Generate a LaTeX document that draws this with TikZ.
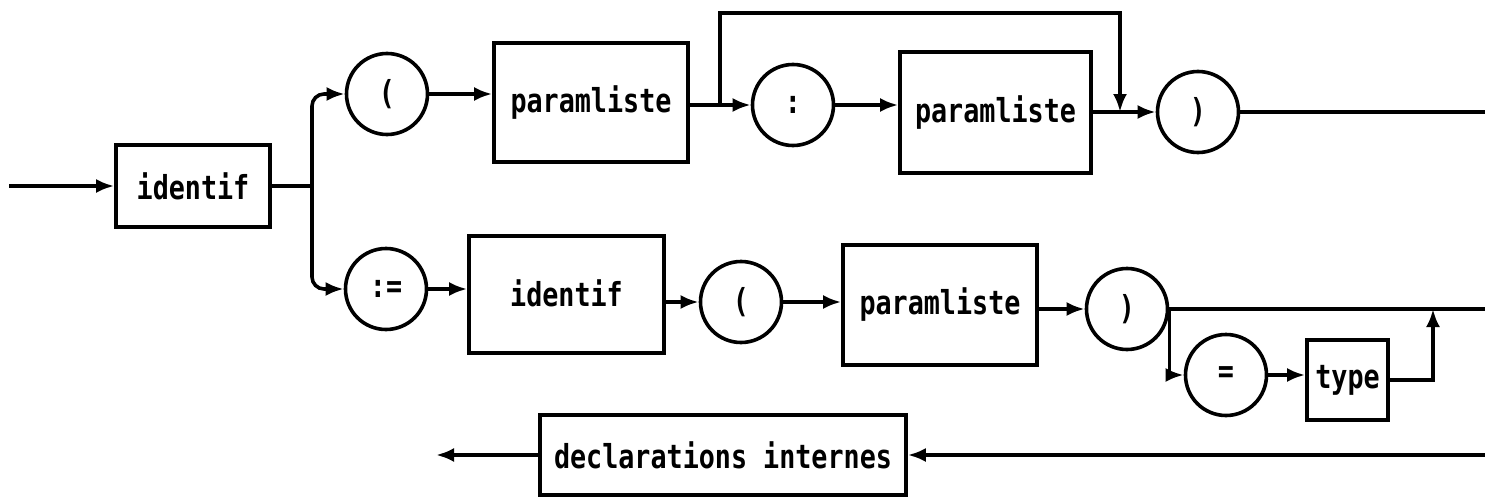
\documentclass[tikz,border=0pt]{standalone}
\usepackage{fontspec}
\newfontfamily\printfont[FakeStretch=0.81]{DejaVu Sans Mono}
\usetikzlibrary{arrows.meta}
\begin{document}
\begin{tikzpicture}[x=0.5pt,y=-0.5pt,
  line width=1.8pt,
  lbl/.style={font=\printfont\bfseries\fontsize{16.5pt}{19pt}\selectfont},
  arr/.style={-{Latex[length=9pt,width=7pt]}},
  term/.style={lbl, draw, circle, minimum size=40.5pt, inner sep=0pt},
  nonterm/.style={lbl, draw, rectangle, inner sep=0pt},
  exitline/.style={line width=2.2pt}]
\useasboundingbox (0,0) rectangle (1485,498);

% upper path: identif ( paramliste { : paramliste } )
\node[nonterm, minimum width=77pt, minimum height=41pt] (id1) at (193,186) {identif};
\node[term] (cA) at (387,94) {(};
\node[nonterm, minimum width=97pt, minimum height=59.5pt] (pl1) at (591,102.5) {\raisebox{2pt}{paramliste}};
\node[term] (cB) at (793,105) {:};
\node[nonterm, minimum width=95.5pt, minimum height=60.5pt] (pl2) at (995.5,112.5) {\raisebox{1.5pt}{paramliste}};
\node[term] (cC) at (1198,112) {)};

% lower path: := identif ( paramliste ) [ = type ]
\node[term] (cD) at (386,289) {:=};
\node[nonterm, minimum width=97.5pt, minimum height=58.5pt] (id2) at (566.5,294.5) {\raisebox{1.5pt}{identif}};
\node[term] (cE) at (741,302) {(};
\node[nonterm, minimum width=97pt, minimum height=60pt] (pl3) at (940,305) {\raisebox{1pt}{paramliste}};
\node[term] (cF) at (1127,309) {)};
\node[term] (cG) at (1226,375) {=};
\node[nonterm, minimum width=40.5pt, minimum height=40pt] (ty) at (1347.5,380) {type};

% closing part
\node[nonterm, minimum width=183pt, minimum height=40pt] (dec) at (723,455) {declarations internes};

% free ends and bends
\coordinate (in) at (9,186);
\coordinate (sp) at (312,186);
\coordinate (tl) at (720,13);
\coordinate (tr) at (1120,13);
\coordinate (rim) at (1485,0);
\coordinate (tyR) at (1433,0);
\coordinate (decOut) at (436,0);

% connectors
\draw[arr, exitline] (in) -- (id1.west);
\draw (id1.east) -- (sp);
\draw[arr, rounded corners=6pt] (sp) |- (cA.west);
\draw[arr, rounded corners=6pt] (sp) |- (cD.west);

\draw[arr] (cA.east) -- (pl1.west |- cA);
\draw[arr] (pl1.east |- cB) -- (cB.west);
\draw[arr] (cB -| tl) -- (tl) -- (tr) -- (cC -| tr);
\draw[arr] (cB.east) -- (pl2.west |- cB);
\draw[arr] (pl2.east |- cC) -- (cC.west);
\draw[exitline] (cC.east) -- (cC -| rim);

\draw[arr] (cD.east) -- (id2.west |- cD);
\draw[arr] (id2.east |- cE) -- (cE.west);
\draw[arr] (cE.east) -- (pl3.west |- cE);
\draw[arr] (pl3.east |- cF) -- (cF.west);
\draw[exitline] (cF.east) -- (cF -| rim);
\draw[arr] (cF.east) |- (cG.west);
\draw[arr] (cG.east) -- (ty.west |- cG);
\draw[arr] (ty.east) -| (cF -| tyR);

\draw[arr, exitline] (dec -| rim) -- (dec.east);
\draw[arr, exitline] (dec.west) -- (dec -| decOut);
\end{tikzpicture}
\end{document}
